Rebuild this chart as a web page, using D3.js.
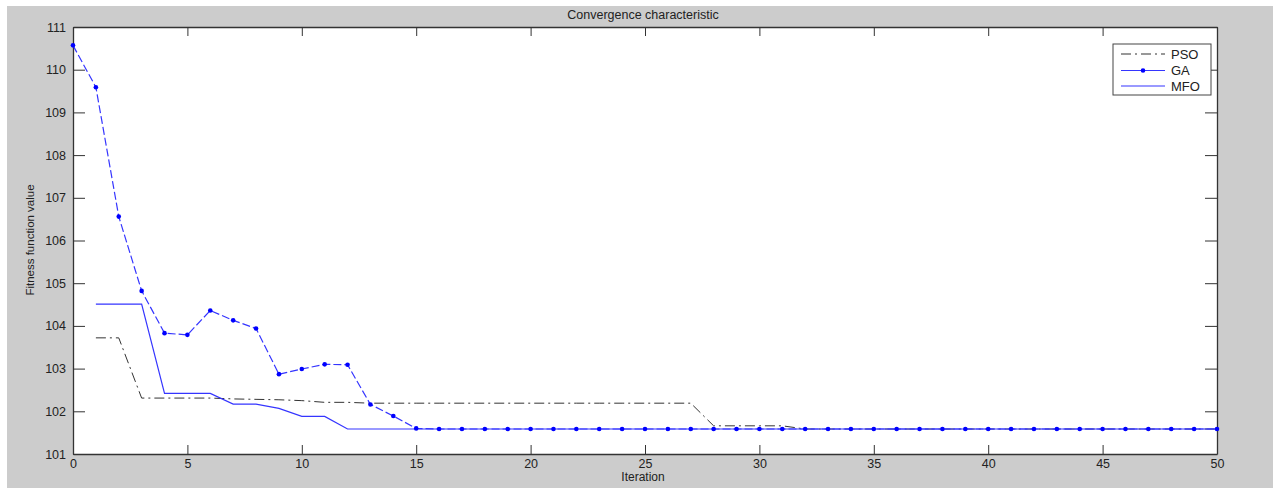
<!DOCTYPE html>
<html>
<head>
<meta charset="utf-8">
<script src="https://cdn.jsdelivr.net/npm/d3@7"></script>
<style>
  body { margin: 0; background: #fff; }
  text { font-family: "Liberation Sans", Arial, sans-serif; fill: #222; }
</style>
</head>
<body>
<div id="chart"></div>
<script>
// iteration numbers
var gaIter = [0, 1, 2, 3, 4, 5, 6, 7, 8, 9, 10, 11, 12, 13, 14, 15, 16, 17, 18, 19, 20,
  21, 22, 23, 24, 25, 26, 27, 28, 29, 30, 31, 32, 33, 34, 35, 36, 37, 38, 39, 40,
  41, 42, 43, 44, 45, 46, 47, 48, 49, 50];
var iter = gaIter.slice(1);

// fitness values
var gaValues = [110.57, 109.59, 106.56, 104.82, 103.83, 103.79, 104.36, 104.13, 103.94, 102.87,
  102.99, 103.10, 103.09, 102.16, 101.89, 101.60, 101.585, 101.585, 101.585, 101.585,
  101.585, 101.585, 101.585, 101.585, 101.585, 101.585, 101.585, 101.585, 101.585, 101.585,
  101.585, 101.585, 101.585, 101.585, 101.585, 101.585, 101.585, 101.585, 101.585, 101.585,
  101.585, 101.585, 101.585, 101.585, 101.585, 101.585, 101.585, 101.585, 101.585, 101.585,
  101.585];
// x = 1..50
var mfoValues = [104.51, 104.51, 104.51, 102.42, 102.42, 102.42, 102.17, 102.17, 102.07, 101.88,
  101.88, 101.585, 101.585, 101.585, 101.585, 101.585, 101.585, 101.585, 101.585, 101.585,
  101.585, 101.585, 101.585, 101.585, 101.585, 101.585, 101.585, 101.585, 101.585, 101.585,
  101.585, 101.585, 101.585, 101.585, 101.585, 101.585, 101.585, 101.585, 101.585, 101.585,
  101.585, 101.585, 101.585, 101.585, 101.585, 101.585, 101.585, 101.585, 101.585, 101.585];
// x = 1..50
var psoValues = [103.72, 103.72, 102.31, 102.31, 102.31, 102.31, 102.29, 102.28, 102.27, 102.25,
  102.21, 102.21, 102.19, 102.19, 102.19, 102.19, 102.19, 102.19, 102.19, 102.19,
  102.19, 102.19, 102.19, 102.19, 102.19, 102.19, 102.19, 101.66, 101.66, 101.66,
  101.66, 101.585, 101.585, 101.585, 101.585, 101.585, 101.585, 101.585, 101.585, 101.585,
  101.585, 101.585, 101.585, 101.585, 101.585, 101.585, 101.585, 101.585, 101.585, 101.585];

var xTicks = [0, 5, 10, 15, 20, 25, 30, 35, 40, 45, 50];
var yTicks = [101, 102, 103, 104, 105, 106, 107, 108, 109, 110, 111];
var legendNames = ["PSO", "GA", "MFO"];

var width = 1273, height = 488;
var plotL = 73, plotR = 1217, plotT = 27, plotB = 454;

var svg = d3.select("#chart").append("svg")
    .attr("width", width)
    .attr("height", height);

// grey figure background
svg.append("rect")
    .attr("x", 7).attr("y", 6)
    .attr("width", width - 7).attr("height", height - 6)
    .attr("fill", "#cccccc");

svg.append("rect")
    .attr("x", plotL).attr("y", plotT)
    .attr("width", plotR - plotL).attr("height", plotB - plotT)
    .attr("fill", "#fff");

var x = d3.scaleLinear().domain([0, 50]).range([plotL, plotR]);
var y = d3.scaleLinear().domain([101, 111]).range([plotB, plotT]);

// axes, ticks pointing into the box on all sides
var axisColor = "#333";
svg.append("g").attr("transform", "translate(0," + plotB + ")")
    .call(d3.axisBottom(x).tickValues(xTicks).tickSizeInner(-9).tickSizeOuter(0).tickPadding(3))
    .call(g => g.selectAll("text").attr("font-size", 12.5).attr("dy", "0.9em"));
svg.append("g").attr("transform", "translate(0," + plotT + ")")
    .call(d3.axisTop(x).tickValues(xTicks).tickSizeInner(-9).tickSizeOuter(0).tickFormat(""));
svg.append("g").attr("transform", "translate(" + plotL + ",0)")
    .call(d3.axisLeft(y).tickValues(yTicks).tickSizeInner(-12).tickSizeOuter(0).tickPadding(7))
    .call(g => g.selectAll("text").attr("font-size", 12.5));
svg.append("g").attr("transform", "translate(" + plotR + ",0)")
    .call(d3.axisRight(y).tickValues(yTicks).tickSizeInner(-12).tickSizeOuter(0).tickFormat(""));
svg.selectAll(".domain").attr("stroke", axisColor).attr("stroke-width", 1.3);
svg.selectAll(".tick line").attr("stroke", axisColor);
svg.selectAll(".tick text").attr("fill", "#222");

// PSO
svg.append("path")
    .datum(iter.map((d, i) => [d, psoValues[i]]))
    .attr("fill", "none")
    .attr("stroke", "#333")
    .attr("stroke-width", 1)
    .attr("stroke-dasharray", "10,4,2,4")
    .attr("d", d3.line().x(d => x(d[0])).y(d => y(d[1])));

// MFO
svg.append("path")
    .datum(iter.map((d, i) => [d, mfoValues[i]]))
    .attr("fill", "none")
    .attr("stroke", "#3535ff")
    .attr("stroke-width", 1.2)
    .attr("d", d3.line().x(d => x(d[0])).y(d => y(d[1])));

// GA
svg.append("path")
    .datum(gaIter.map((d, i) => [d, gaValues[i]]))
    .attr("fill", "none")
    .attr("stroke", "#3535ff")
    .attr("stroke-width", 1.2)
    .attr("stroke-dasharray", "8,3")
    .attr("d", d3.line().x(d => x(d[0])).y(d => y(d[1])));

svg.append("g").selectAll("circle")
    .data(gaIter)
    .enter()
    .append("circle")
    .attr("cx", d => x(d))
    .attr("cy", (d, i) => y(gaValues[i]))
    .attr("r", 2.3)
    .attr("fill", "#0000ff");

// legend
var lg = svg.append("g");
lg.append("rect")
    .attr("x", 1113).attr("y", 44)
    .attr("width", 98).attr("height", 51)
    .attr("fill", "#fff")
    .attr("stroke", "#444");
var rowY = [54, 70.5, 86];
legendNames.forEach(function (name, i) {
    var ln = lg.append("line")
        .attr("x1", 1121).attr("x2", 1165)
        .attr("y1", rowY[i]).attr("y2", rowY[i])
        .attr("stroke-width", 1.2);
    if (i === 0) ln.attr("stroke", "#333").attr("stroke-dasharray", "10,4,2,4");
    else ln.attr("stroke", "#3535ff");
    if (i === 1) {
        lg.append("circle").attr("cx", 1143).attr("cy", rowY[i]).attr("r", 2.3).attr("fill", "#0000ff");
    }
    lg.append("text")
        .attr("x", 1171).attr("y", rowY[i])
        .attr("dy", "0.36em")
        .attr("font-size", 13)
        .text(name);
});

// labels
svg.append("text")
    .attr("x", 643).attr("y", 15)
    .attr("dy", "0.35em")
    .attr("text-anchor", "middle")
    .attr("font-size", 12.5)
    .text("Convergence characteristic");
svg.append("text")
    .attr("x", 643).attr("y", 477)
    .attr("dy", "0.35em")
    .attr("text-anchor", "middle")
    .attr("font-size", 12)
    .text("Iteration");
svg.append("text")
    .attr("transform", "translate(30," + 240 + ") rotate(-90)")
    .attr("dy", "0.35em")
    .attr("text-anchor", "middle")
    .attr("font-size", 11.5)
    .text("Fitness function value");
</script>
</body>
</html>
